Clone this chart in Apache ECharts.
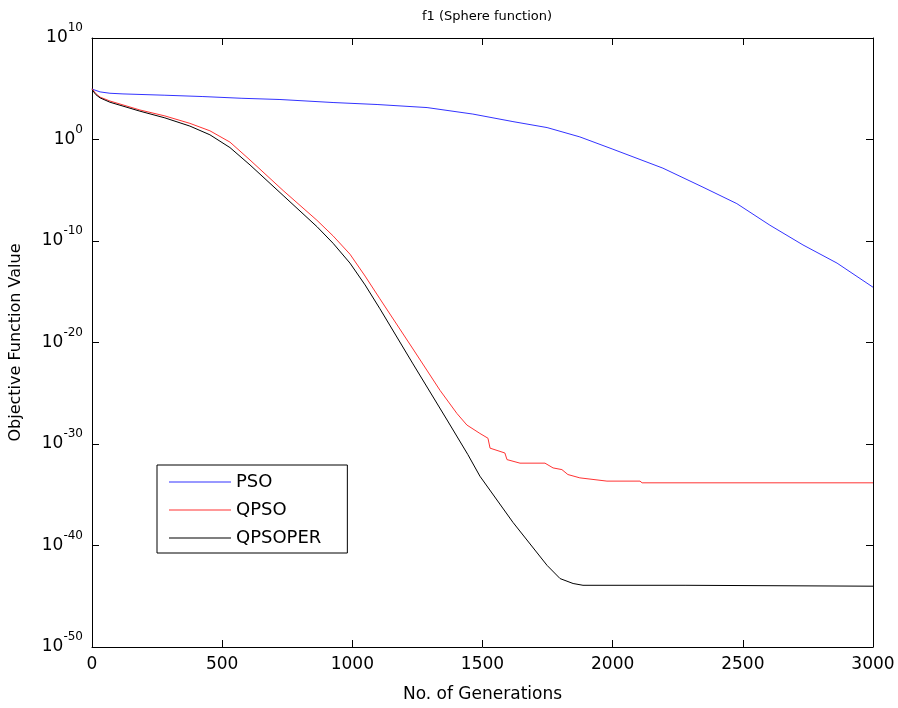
<!DOCTYPE html>
<html>
<head>
<meta charset="utf-8">
<title>f1 (Sphere function)</title>
<script src="https://cdn.jsdelivr.net/npm/echarts@6/dist/echarts.min.js"></script>
<style>
  html, body { margin: 0; padding: 0; background: #fff; }
  #chart { width: 898px; height: 708px; }
</style>
</head>
<body>
<div id="chart"></div>
<script>
// Convergence of best objective value per generation.
// The y axis is logarithmic: values are plotted as log10 on a linear axis
// and labelled as powers of ten.
const xTicks = [0, 500, 1000, 1500, 2000, 2500, 3000];
const yExponents = [-50, -40, -30, -20, -10, 0, 10];

const psoGen = [0, 31, 69, 119, 280, 426, 576, 722, 926, 1095, 1287, 1463, 1617, 1748, 1874, 2001, 2193, 2347, 2477, 2604, 2731, 2862, 3000];
const psoVal = [9.3e4, 4.9e4, 3.6e4, 3.1e4, 2.3e4, 1.7e4, 1.15e4, 8.7e3, 4.4e3, 2.8e3, 1.4e3, 3.2e2, 58, 15, 1.8, 0.11, 1.5e-3, 2.0e-5, 4.8e-7, 3.6e-9, 4.1e-11, 6.6e-13, 2.8e-15];

const qpsoGen = [0, 15, 31, 69, 184, 280, 376, 453, 530, 607, 734, 864, 926, 991, 1049, 1106, 1233, 1337, 1402, 1440, 1490, 1521, 1529, 1586, 1594, 1644, 1740, 1771, 1805, 1828, 1874, 1978, 2105, 2113, 3000];
const qpsoVal = [1.0e5, 3.3e4, 1.5e4, 6.2e3, 8.1e2, 2.1e2, 39, 7.2, 0.55, 9.5e-3, 9.5e-6, 1.1e-8, 3.2e-10, 5.0e-12, 3.5e-14, 2.0e-16, 2.3e-21, 1.9e-25, 1.0e-27, 7.4e-29, 1.1e-29, 3.7e-30, 3.9e-31, 1.3e-31, 2.9e-32, 1.3e-32, 1.3e-32, 4.4e-33, 3.0e-33, 9.8e-34, 4.6e-34, 2.2e-34, 2.2e-34, 1.5e-34, 1.5e-34];

const qpsoperGen = [0, 15, 31, 69, 184, 280, 376, 453, 530, 607, 734, 864, 926, 991, 1049, 1106, 1233, 1364, 1444, 1490, 1617, 1748, 1798, 1848, 1886, 2278, 2281, 3000];
const qpsoperVal = [8.1e4, 2.6e4, 1.26e4, 4.7e3, 6.2e2, 1.35e2, 21, 2.9, 0.16, 3.1e-3, 3.1e-6, 2.6e-9, 6.0e-11, 6.6e-13, 4.7e-15, 2.1e-17, 7.8e-23, 2.3e-28, 8.9e-32, 6.8e-34, 1.9e-38, 1.1e-42, 5.5e-44, 1.8e-44, 1.2e-44, 1.2e-44, 9.8e-45, 9.8e-45];

const pairs = (g, v) => g.map((x, i) => [x, Math.log10(v[i])]);

const FONT = 'DejaVu Sans';
const chart = echarts.init(document.getElementById('chart'), null, { renderer: 'canvas' });

const tickStyle = { inside: true, length: 7, lineStyle: { color: '#000', width: 1 } };
const axisLineStyle = { color: '#000', width: 1 };
// legend swatch: a thin horizontal bar centred in the item box
const lineIcon = 'path://M0,0L0.01,0L0.01,0.01Z M0,6.5L62,6.5L62,7.5L0,7.5Z M0,14L0.01,14L0.01,13.99Z';

const xBase = {
  type: 'value',
  min: xTicks[0],
  max: xTicks[xTicks.length - 1],
  interval: xTicks[1] - xTicks[0],
  axisLine: { onZero: false, lineStyle: axisLineStyle },
  axisTick: tickStyle,
  splitLine: { show: false }
};
const yBase = {
  type: 'value',
  min: yExponents[0],
  max: yExponents[yExponents.length - 1],
  interval: yExponents[1] - yExponents[0],
  axisLine: { onZero: false, lineStyle: axisLineStyle },
  axisTick: tickStyle,
  splitLine: { show: false }
};

chart.setOption({
  animation: false,
  backgroundColor: '#fff',
  title: {
    text: 'f1 (Sphere function)',
    left: 482,
    textAlign: 'center',
    top: 5,
    textStyle: { fontFamily: FONT, fontSize: 13, fontWeight: 'normal', color: '#000' }
  },
  grid: { left: 92, right: 25, top: 38, bottom: 55, containLabel: false },
  legend: {
    orient: 'vertical',
    left: 157,
    top: 465,
    itemWidth: 62,
    itemHeight: 14,
    itemGap: 10,
    padding: [8, 26, 6, 12],
    borderColor: '#000',
    borderWidth: 1,
    backgroundColor: '#fff',
    textStyle: { fontFamily: FONT, fontSize: 18, lineHeight: 18, color: '#000' },
    data: [
      { name: 'PSO', icon: lineIcon },
      { name: 'QPSO', icon: lineIcon },
      { name: 'QPSOPER', icon: lineIcon }
    ]
  },
  xAxis: [
    Object.assign({}, xBase, {
      name: 'No. of Generations',
      nameLocation: 'middle',
      nameGap: 39,
      nameTextStyle: { fontFamily: FONT, fontSize: 17, color: '#000' },
      axisLabel: {
        margin: 9, fontFamily: FONT, fontSize: 17, color: '#000',
        formatter: function (v) { return String(v); }
      }
    }),
    Object.assign({}, xBase, { position: 'top', axisLabel: { show: false } })
  ],
  yAxis: [
    Object.assign({}, yBase, {
      name: 'Objective Function Value',
      nameLocation: 'middle',
      nameGap: 68,
      nameTextStyle: { fontFamily: FONT, fontSize: 16, color: '#000' },
      axisLabel: {
        margin: 9,
        formatter: function (v) { return '{b|10}{e|' + v + '}'; },
        rich: {
          b: { fontFamily: FONT, fontSize: 17, lineHeight: 17, color: '#000', verticalAlign: 'middle' },
          e: { fontFamily: FONT, fontSize: 12, lineHeight: 12, color: '#000', verticalAlign: 'middle', padding: [0, 0, 20, 0] }
        }
      }
    }),
    Object.assign({}, yBase, { position: 'right', axisLabel: { show: false } })
  ],
  series: [
    {
      name: 'PSO', type: 'line', symbol: 'none', showSymbol: false,
      lineStyle: { color: '#3333ff', width: 1 }, itemStyle: { color: '#3333ff' },
      data: pairs(psoGen, psoVal)
    },
    {
      name: 'QPSO', type: 'line', symbol: 'none', showSymbol: false,
      lineStyle: { color: '#ff3333', width: 1 }, itemStyle: { color: '#ff3333' },
      data: pairs(qpsoGen, qpsoVal)
    },
    {
      name: 'QPSOPER', type: 'line', symbol: 'none', showSymbol: false,
      lineStyle: { color: '#000000', width: 1 }, itemStyle: { color: '#000000' },
      data: pairs(qpsoperGen, qpsoperVal)
    }
  ]
});
</script>
</body>
</html>
